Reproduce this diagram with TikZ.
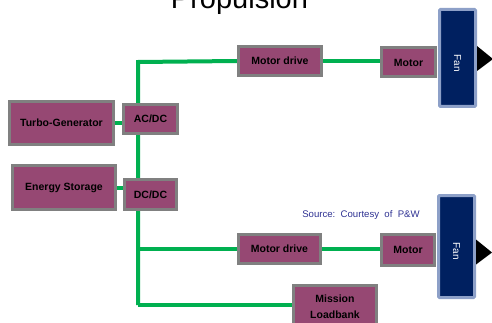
\documentclass[tikz,border=0pt]{standalone}
\usepackage{fontspec}
\setmainfont{Liberation Sans}
\usetikzlibrary{calc,backgrounds}
\definecolor{boxfill}{RGB}{150,72,115}
\definecolor{boxline}{RGB}{128,128,128}
\definecolor{wire}{RGB}{0,176,80}
\definecolor{fanfill}{RGB}{0,32,96}
\definecolor{fanline}{RGB}{141,160,200}
\definecolor{srcblue}{RGB}{46,49,146}
\tikzset{
  blk/.style={draw=boxline, fill=boxfill, line width=3pt, inner sep=0pt,
    font=\fontsize{10.5}{16}\selectfont\bfseries, text=black, align=center},
  fanbox/.style={draw=fanline, fill=fanfill, line width=3pt, rounded corners=1pt, inner sep=0pt},
  fantext/.style={text=white, font=\fontsize{10}{12}\selectfont, rotate=-90, inner sep=0pt},
  wirel/.style={draw=wire, line width=4pt},
  thrust/.style={fill=black},
}
\begin{document}
\begin{tikzpicture}[x=1pt,y=-1pt]
\useasboundingbox (0,0) rectangle (492,323);
% title
\node[anchor=base, font=\fontsize{29}{32}\selectfont, inner sep=0pt] (title) at (239.5,9) {Propulsion};
% bus coordinates
\coordinate (btop) at (138,62);
\coordinate (bmid) at (138,249);
\coordinate (bbot) at (138,305);
% nodes
\node[blk, minimum width=83pt, minimum height=29pt] (md1) at (280,61) {Motor drive};
\node[blk, minimum width=54pt, minimum height=29pt] (m1) at (408.5,62.5) {Motor};
\node[fanbox, minimum width=36pt, minimum height=97pt] (fan1) at (457.5,58) {};
\node[blk, minimum width=104pt, minimum height=43pt] (tg) at (61.5,123) {Turbo-Generator};
\node[blk, minimum width=54pt, minimum height=29pt] (acdc) at (150.5,119) {AC/DC};
\node[blk, minimum width=103pt, minimum height=44pt] (es) at (64,187.5) {Energy Storage};
\node[blk, minimum width=52pt, minimum height=30pt] (dcdc) at (150.5,194.5) {DC/DC};
\node[blk, minimum width=82pt, minimum height=29pt] (md2) at (279.5,249) {Motor drive};
\node[blk, minimum width=53pt, minimum height=31pt] (m2) at (408,250) {Motor};
\node[fanbox, minimum width=36pt, minimum height=102pt] (fan2) at (456.5,246.5) {};
\node[blk, minimum width=83pt, minimum height=43pt] (ml) at (335,307) {Mission\\Loadbank};
\node[fantext] (fan1t) at ($(fan1.center)+(0,5)$) {Fan};
\node[fantext] (fan2t) at ($(fan2.center)+(0,5)$) {Fan};
\node[text=srcblue, font=\fontsize{9.6}{11}\selectfont, inner sep=0pt] (src) at (361,215) {Source:\ \ Courtesy\ \ of\ \ P\&W};
% thrust triangles
\fill[thrust] ($(fan1.east)+(0,-12)$) -- ($(fan1.east)+(16,1)$) -- ($(fan1.east)+(0,13)$) -- cycle;
\fill[thrust] ($(fan2.east)+(0,-7)$) -- ($(fan2.east)+(16,6)$) -- ($(fan2.east)+(0,18)$) -- cycle;
% wires (behind boxes)
\begin{pgfonlayer}{background}
\draw[wirel] (bbot) -- (btop) -- (md1.west);
\draw[wirel] (md1.east) -- (md1.east -| m1.west);
\draw[wirel] (bmid) -- (md2.west);
\draw[wirel] (md2.east) -- (md2.east -| m2.west);
\draw[wirel] (bbot) -- (bbot -| ml.west);
\draw[wirel] (tg.east |- 0,123) -- (acdc.west |- 0,123);
\draw[wirel] (es.east |- 0,188) -- (dcdc.west |- 0,188);
\end{pgfonlayer}
\end{tikzpicture}
\end{document}
